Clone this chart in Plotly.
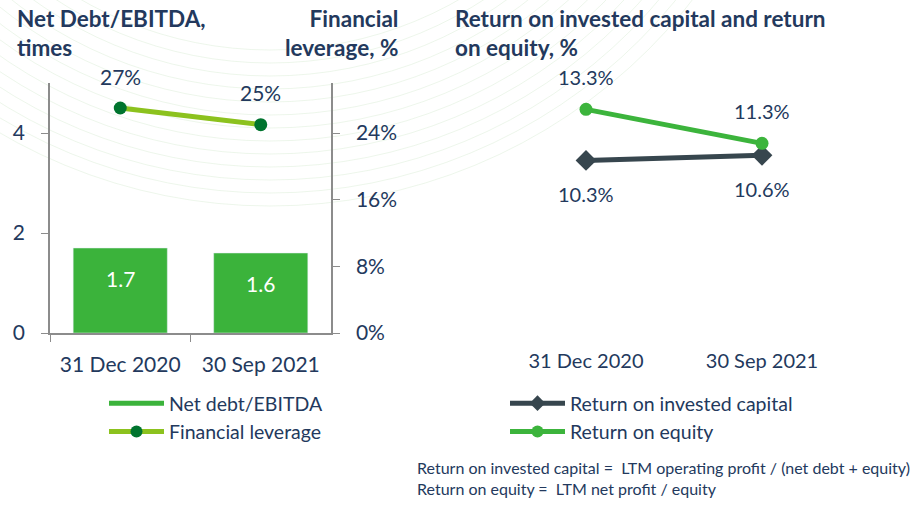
import plotly.graph_objects as go

# Data
dates = ["31 Dec 2020", "30 Sep 2021"]
net_debt_ebitda = [1.7, 1.6]
financial_leverage = [27, 25]
roic = [10.3, 10.6]
roe = [13.3, 11.3]

left_ticks = [0, 2, 4]
right_ticks = [0, 8, 16, 24]

FONT = "Lato"
TEXT = "#23395d"
BAR_GREEN = "#3bb33b"
LEV_LINE = "#8cc21e"
LEV_MARKER = "#00742e"
ROE_GREEN = "#3cb43c"
ROIC_DARK = "#37464e"
AXIS = "#8c8c8c"

W, H = 913, 505

fig = go.Figure()

# Left chart: bars + financial leverage on secondary axis
fig.add_trace(go.Bar(
    x=dates, y=net_debt_ebitda, xaxis="x", yaxis="y",
    marker_color=BAR_GREEN, width=0.67, showlegend=False,
))
# legend entry for bars drawn as thick line so it looks like the wide swatch
fig.add_trace(go.Scatter(
    x=[None], y=[None], mode="lines", name="Net debt/EBITDA",
    line=dict(color=BAR_GREEN, width=15), xaxis="x", yaxis="y", legend="legend",
))
fig.add_trace(go.Scatter(
    x=dates, y=financial_leverage, xaxis="x", yaxis="y2", mode="lines+markers",
    name="Financial leverage", line=dict(color=LEV_LINE, width=5),
    marker=dict(color=LEV_MARKER, size=13), legend="legend",
))

# Right chart
fig.add_trace(go.Scatter(
    x=dates, y=roic, xaxis="x3", yaxis="y3", mode="lines+markers",
    name="Return on invested capital", line=dict(color=ROIC_DARK, width=5),
    marker=dict(color=ROIC_DARK, size=16, symbol="diamond"), legend="legend2",
))
fig.add_trace(go.Scatter(
    x=dates, y=roe, xaxis="x3", yaxis="y3", mode="lines+markers",
    name="Return on equity", line=dict(color=ROE_GREEN, width=5),
    marker=dict(color=ROE_GREEN, size=13), legend="legend2",
))

annotations = []
for d, v in zip(dates, net_debt_ebitda):
    annotations.append(dict(x=d, y=v, xref="x", yref="y", text=f"{v:.1f}", showarrow=False,
                            yshift=-30, font=dict(size=21, color="white", family=FONT)))
for d, v in zip(dates, financial_leverage):
    annotations.append(dict(x=d, y=v, xref="x", yref="y2", text=f"{v}%", showarrow=False,
                            yshift=32, font=dict(size=21, color=TEXT, family=FONT)))
for d, v in zip(dates, roe):
    annotations.append(dict(x=d, y=v, xref="x3", yref="y3", text=f"{v}%", showarrow=False,
                            yshift=32, font=dict(size=20, color=TEXT, family=FONT)))
for d, v in zip(dates, roic):
    annotations.append(dict(x=d, y=v, xref="x3", yref="y3", text=f"{v}%", showarrow=False,
                            yshift=-34, font=dict(size=20, color=TEXT, family=FONT)))

title_font = dict(size=22.5, color=TEXT, family=FONT, weight="bold")
annotations += [
    dict(x=15 / W, y=1 - 3 / H, xref="paper", yref="paper", xanchor="left", yanchor="top",
         align="left", showarrow=False, text="Net Debt/EBITDA,<br>times", font=title_font),
    dict(x=400 / W, y=1 - 3 / H, xref="paper", yref="paper", xanchor="right", yanchor="top",
         align="right", showarrow=False, text="Financial<br>leverage, %", font=title_font),
    dict(x=453 / W, y=1 - 3 / H, xref="paper", yref="paper", xanchor="left", yanchor="top",
         align="left", showarrow=False,
         text="Return on invested capital and return<br>on equity, %", font=title_font),
    dict(x=415 / W, y=1 - 456 / H, xref="paper", yref="paper", xanchor="left", yanchor="top",
         align="left", showarrow=False,
         text="Return on invested capital =  LTM operating profit / (net debt + equity)"
              "<br>Return on equity =  LTM net profit / equity",
         font=dict(size=16, color=TEXT, family=FONT)),
]

# faint decorative arcs in the background
shapes = []
cx, cy = 270, -330
for r in range(380, 540, 13):
    shapes.append(dict(type="circle", xref="paper", yref="paper", layer="below",
                       x0=(cx - r) / W, x1=(cx + r) / W,
                       y0=1 - (cy + r) / H, y1=1 - (cy - r) / H,
                       line=dict(color="rgba(110,185,90,0.12)", width=1)))

dom_y = [1 - 333 / H, 1 - 83 / H]
tick_font = dict(size=21, color=TEXT, family=FONT)

fig.update_layout(
    width=W, height=H, margin=dict(l=0, r=0, t=0, b=0, autoexpand=False),
    paper_bgcolor="white", plot_bgcolor="rgba(0,0,0,0)",
    font=dict(family=FONT, color=TEXT),
    annotations=annotations, shapes=shapes, bargap=0.33,
    xaxis=dict(domain=[50 / W, 331 / W], anchor="y", showline=True, linecolor=AXIS, linewidth=1.5,
               ticks="outside", ticklen=7, tickcolor=AXIS, tickson="boundaries",
               tickfont=tick_font, showgrid=False, fixedrange=True, automargin=False,
               ticklabelstandoff=12),
    yaxis=dict(domain=dom_y, range=[0, 5], tickvals=left_ticks, showline=True, linecolor=AXIS,
               linewidth=1.5, ticks="outside", ticklen=7, tickcolor=AXIS, showgrid=False,
               zeroline=False, tickfont=tick_font, ticklabelstandoff=12, automargin=False),
    yaxis2=dict(overlaying="y", side="right", anchor="x", range=[0, 30], tickvals=right_ticks,
                ticktext=[f"{t}%" for t in right_ticks], tickmode="array",
                showline=True, linecolor=AXIS, linewidth=1.5, ticks="outside",
                ticklen=7, tickcolor=AXIS, showgrid=False, zeroline=False, tickfont=tick_font,
                ticklabelstandoff=12, automargin=False),
    xaxis3=dict(domain=[498 / W, 850 / W], anchor="y3", range=[-0.5, 1.5], showline=False,
                showgrid=False, tickfont=dict(size=20, color=TEXT, family=FONT), ticks="",
                fixedrange=True, automargin=False, ticklabelstandoff=14),
    yaxis3=dict(domain=dom_y, range=[0.15, 14.85], visible=False, automargin=False),
    legend=dict(x=104 / W, y=1 - 384 / H, xanchor="left", yanchor="top", bgcolor="rgba(0,0,0,0)",
                font=dict(size=19.5, color=TEXT, family=FONT), itemwidth=55, tracegroupgap=0,
                itemsizing="constant"),
    legend2=dict(x=505 / W, y=1 - 384 / H, xanchor="left", yanchor="top", bgcolor="rgba(0,0,0,0)",
                 font=dict(size=19.5, color=TEXT, family=FONT), itemwidth=55, tracegroupgap=0,
                 itemsizing="constant"),
)

# drop the default 8px body margin so the figure sits at the window origin
fig.write_html("out.html", config={"displayModeBar": False},
               post_script="document.body.style.margin='0';")
